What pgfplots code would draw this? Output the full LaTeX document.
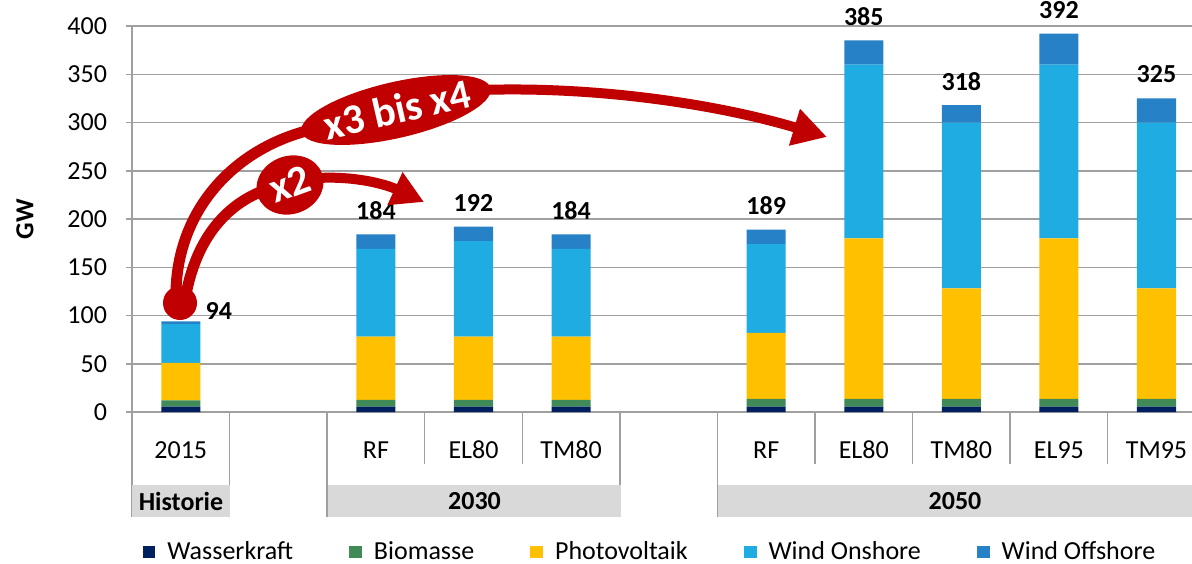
\documentclass[border=0pt]{standalone}
\usepackage{pgfplots}
\usepackage{pgfplotstable}
\pgfplotsset{compat=1.18}
\usepackage{fontspec}
\setmainfont{Carlito}
\usetikzlibrary{arrows.meta}

\definecolor{wasser}{HTML}{002060}
\definecolor{bio}{HTML}{3F8A56}
\definecolor{pv}{HTML}{FFC000}
\definecolor{onshore}{HTML}{1EACE2}
\definecolor{offshore}{HTML}{2781C6}
\definecolor{pfeil}{HTML}{C00000}
\definecolor{gitter}{HTML}{A0A0A0}
\definecolor{kasten}{HTML}{D9D9D9}

\newcommand\fs{\fontsize{13}{15.6}\selectfont}

% installierte Leistung in GW, x = Position der Saeule
\pgfplotstableread{
x  wasser bio pv    onshore offshore
0  5.5    6.5 39    40      3
2  5.5    7   65.5  91      15
3  5.5    7   65.5  99      15
4  5.5    7   65.5  91      15
6  5.5    8   68.5  92      15
7  5.5    8   166.5 180     25
8  5.5    8   114.5 172     18
9  5.5    8   166.5 180     32
10 5.5    8   114.5 172     25
}\daten

\begin{document}
\begin{tikzpicture}
\begin{axis}[
    at={(66pt,75.5pt)}, anchor=south west,
    scale only axis, width=530pt, height=193pt,
    xmin=-0.5, xmax=10.364, ymin=0, ymax=400,
    ybar stacked, bar width=0.4,
    clip=false,
    axis lines=left,
    axis line style={gitter, line width=0.75pt, -},
    ymajorgrids, grid style={gitter, line width=0.75pt},
    ytick={0,50,...,400},
    xtick={0,2,3,4,6,7,8,9,10},
    xticklabels={2015,RF,EL80,TM80,RF,EL80,TM80,EL95,TM95},
    tick align=outside, major tick length=3pt,
    xtick style={draw=none},
    ytick style={gitter, line width=0.75pt},
    tick label style={font=\fs},
    /pgf/number format/assume math mode=true,
    xticklabel style={anchor=center, yshift=-16pt},
    yticklabel style={xshift=-6pt},
    ylabel={GW},
    ylabel style={at={(axis description cs:-0.101,0.5)}, anchor=center, font=\fs\bfseries},
    legend columns=5,
    legend style={draw=none, at={(0.4896,-0.3627)}, anchor=center, font=\fs,
        /tikz/every odd column/.append style={column sep=4pt},
        /tikz/every even column/.append style={column sep=26pt}},
    legend image code/.code={\fill[#1] (0pt,-3.2pt) rectangle (6.4pt,3.2pt);},
]
\addplot[fill=wasser, draw=none] table[x=x, y=wasser] {\daten};
\addplot[fill=bio, draw=none] table[x=x, y=bio] {\daten};
\addplot[fill=pv, draw=none] table[x=x, y=pv] {\daten};
\addplot[fill=onshore, draw=none] table[x=x, y=onshore] {\daten};
\addplot[fill=offshore, draw=none] table[x=x, y=offshore] {\daten};
\legend{Wasserkraft, Biomasse, Photovoltaik, Wind Onshore, Wind Offshore}

% Summen
\node[font=\fs\bfseries] at (axis cs:0.39,94) [yshift=5pt] {94};
\node[font=\fs\bfseries] at (axis cs:2,184) [yshift=12pt] {184};
\node[font=\fs\bfseries] at (axis cs:3,192) [yshift=12pt] {192};
\node[font=\fs\bfseries] at (axis cs:4,184) [yshift=12pt] {184};
\node[font=\fs\bfseries] at (axis cs:6,189) [yshift=12pt] {189};
\node[font=\fs\bfseries] at (axis cs:7,385) [yshift=12pt] {385};
\node[font=\fs\bfseries] at (axis cs:8,318) [yshift=12pt] {318};
\node[font=\fs\bfseries] at (axis cs:9,392) [yshift=12pt] {392};
\node[font=\fs\bfseries] at (axis cs:10,325) [yshift=12pt] {325};

% Trennlinien unter der Achse
\draw[gitter, line width=0.75pt]
    (axis cs:-0.5,0) -- (axis cs:-0.5,-108.8)
    (axis cs:0.5,0) -- (axis cs:0.5,-108.8)
    (axis cs:1.5,0) -- (axis cs:1.5,-108.8)
    (axis cs:4.5,0) -- (axis cs:4.5,-108.8)
    (axis cs:5.5,0) -- (axis cs:5.5,-108.8)
    (axis cs:2.5,0) -- (axis cs:2.5,-53.9)
    (axis cs:3.5,0) -- (axis cs:3.5,-53.9)
    (axis cs:6.5,0) -- (axis cs:6.5,-53.9)
    (axis cs:7.5,0) -- (axis cs:7.5,-53.9)
    (axis cs:8.5,0) -- (axis cs:8.5,-53.9)
    (axis cs:9.5,0) -- (axis cs:9.5,-53.9);
\end{axis}

\begin{scope}[x=0.5pt, y=-0.5pt, shift={(0pt,281.5pt)}]
% Gruppenkaesten
\fill[kasten] (132,485) rectangle (230,517);
\fill[kasten] (328,485) rectangle (621,517);
\fill[kasten] (718,485) rectangle (1192,517);
\node[font=\fs\bfseries] at (181,501) {Historie};
\node[font=\fs\bfseries] at (474.5,501) {2030};
\node[font=\fs\bfseries] at (955,501) {2050};

% Pfeile
\draw[pfeil, line width=5.5pt] (176,300) .. controls (174,215) and (230,150) .. (310,130);
\draw[pfeil, line width=5.5pt] (185,300) .. controls (195,240) and (225,205) .. (265,190);
\fill[pfeil] (180,303) circle [radius=17];
\draw[pfeil, line width=5pt, -{Triangle[length=16pt, width=17pt]}]
    (318,178) .. controls (355,176) and (385,184) .. (424,202);
\draw[pfeil, line width=5pt, -{Triangle[length=17pt, width=18pt]}]
    (480,90) .. controls (600,86) and (720,105) .. (827,137);
\fill[pfeil, rotate around={13:(396,110)}] (396,110) ellipse [x radius=97, y radius=28];
\fill[pfeil, rotate around={20:(290,185)}] (290,185) ellipse [x radius=34, y radius=29];
\node[text=white, font=\fontsize{21}{24}\selectfont\bfseries, rotate=13] at (397,109) {x3 bis x4};
\node[text=white, font=\fontsize{21}{24}\selectfont\bfseries, rotate=20] at (290,184) {x2};
\end{scope}

\pgfresetboundingbox
\path (0pt,0pt) rectangle (596pt,281.5pt);
\end{tikzpicture}
\end{document}
